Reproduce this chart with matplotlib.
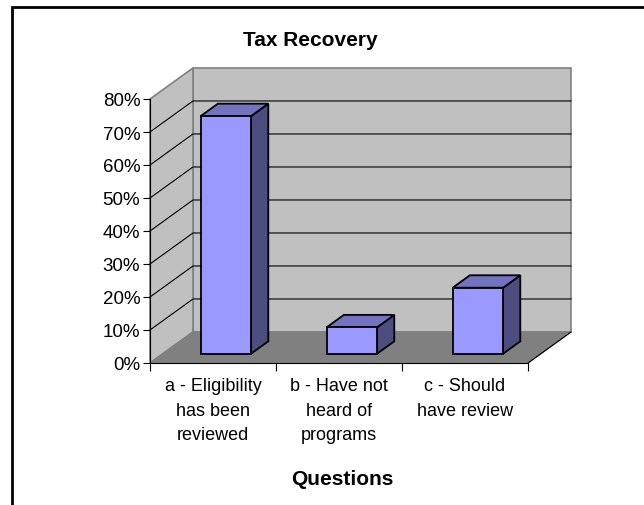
import matplotlib
matplotlib.use("Agg")
import matplotlib.pyplot as plt
from matplotlib.patches import Polygon, Rectangle
from matplotlib.ticker import PercentFormatter

plt.rcParams['font.family'] = ['Liberation Sans', 'DejaVu Sans']

categories = ["a - Eligibility\nhas been\nreviewed",
              "b - Have not\nheard of\nprograms",
              "c - Should\nhave review"]
values = [0.72, 0.08, 0.20]
title = "Tax Recovery"
xlabel = "Questions"
ymax = 0.8

# oblique 3d look: depth offset in data units
DX = 0.341
DY = 0.094
front_c = "#9999FF"
side_c = "#4D4D80"
top_c = "#7373BF"
wall_c = "#C0C0C0"
floor_c = "#808080"

W, H = 644, 506
fig = plt.figure(figsize=(W / 100, H / 100), dpi=100)
fig.patches.append(Rectangle((12 / W, -0.1), 1.2, 1 - 8 / H + 0.1, transform=fig.transFigure,
                             fill=False, edgecolor="black", linewidth=2))

x0, y0 = 150, 364
ax = fig.add_axes([x0 / W, 1 - y0 / H, 378 / W, 264 / H])
ax.set_xlim(0, len(values))
ax.set_ylim(0, ymax)
ax.patch.set_visible(False)
n = len(values)

def poly(pts, fc, ec, lw=1.0, z=1):
    ax.add_patch(Polygon(pts, closed=True, facecolor=fc, edgecolor=ec, linewidth=lw,
                         zorder=z, clip_on=False))

# walls and floor
poly([(DX, DY), (n + DX, DY), (n + DX, ymax + DY), (DX, ymax + DY)], wall_c, "#808080", 1.2)
poly([(0, 0), (DX, DY), (DX, ymax + DY), (0, ymax)], wall_c, "#808080", 1.2)
poly([(0, 0), (n, 0), (n + DX, DY), (DX, DY)], floor_c, floor_c, 1.0, 1.5)
ax.plot([n, n + DX], [0, DY], color="black", lw=0.8, clip_on=False, zorder=1.6)

# gridlines on left and back walls
for v in [0.1, 0.2, 0.3, 0.4, 0.5, 0.6, 0.7]:
    ax.plot([0, DX, n + DX], [v, v + DY, v + DY], color="black", lw=0.8,
            clip_on=False, zorder=1.2)

# bars
f0, f1 = 0.3, 0.7
for i, v in enumerate(values):
    a, b = i + 0.3, i + 0.7
    poly([(b + f0 * DX, f0 * DY), (b + f1 * DX, f1 * DY),
          (b + f1 * DX, v + f1 * DY), (b + f0 * DX, v + f0 * DY)], side_c, "black", 1.3, 3)
    poly([(a + f0 * DX, v + f0 * DY), (b + f0 * DX, v + f0 * DY),
          (b + f1 * DX, v + f1 * DY), (a + f1 * DX, v + f1 * DY)], top_c, "black", 1.3, 3)
    poly([(a + f0 * DX, f0 * DY), (b + f0 * DX, f0 * DY),
          (b + f0 * DX, v + f0 * DY), (a + f0 * DX, v + f0 * DY)], front_c, "black", 1.3, 3)

for s in ["top", "right"]:
    ax.spines[s].set_visible(False)
ax.spines["left"].set_color("black")
ax.spines["bottom"].set_color("black")
ax.spines["left"].set_zorder(4)
ax.spines["bottom"].set_zorder(4)

ax.set_yticks([0, 0.1, 0.2, 0.3, 0.4, 0.5, 0.6, 0.7, 0.8])
ax.yaxis.set_major_formatter(PercentFormatter(1.0, decimals=0))
ax.tick_params(axis="y", length=5, width=0.8, labelsize=13.5, pad=2)

ax.set_xticks([i + 0.5 for i in range(n)])
ax.set_xticklabels(categories, fontsize=13, linespacing=1.6)
ax.set_xticks(range(n + 1), minor=True)
ax.tick_params(axis="x", which="major", length=0, pad=10)
ax.tick_params(axis="x", which="minor", length=6, width=0.8)

fig.text(310 / W, 1 - 40 / H, title, ha="center", va="center", fontsize=15, fontweight="bold")
fig.text(342 / W, 1 - 480 / H, xlabel, ha="center", va="center", fontsize=15, fontweight="bold")

fig.savefig("out.png", dpi=100)
